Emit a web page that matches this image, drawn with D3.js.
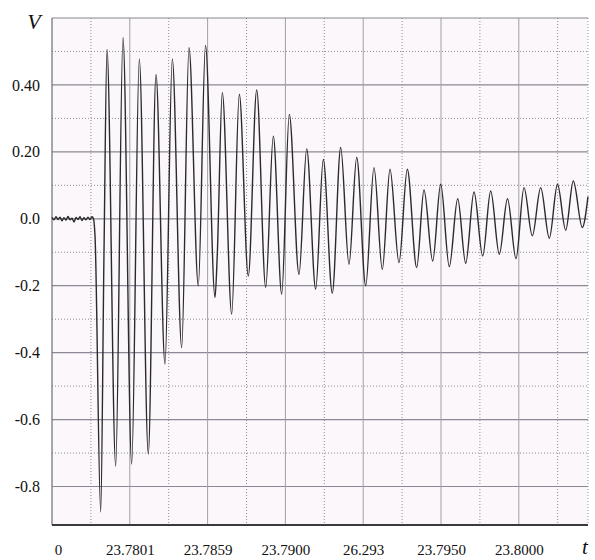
<!DOCTYPE html>
<html><head><meta charset="utf-8">
<script src="https://cdn.jsdelivr.net/npm/d3@7"></script>
<style>body{margin:0;background:#fff} svg text{font-family:"Liberation Serif","Times New Roman",Times,"DejaVu Serif","Noto Serif",FreeSerif,serif !important;}</style>
</head><body>
<svg id="c" width="595" height="560"></svg>
<script>
// sample times (arbitrary record units) and voltages (V)
const times = [0,2,4,6,8,10,12,14,16,18,20,22,24,26,28,30,32,34,36,38,40,41.5,
  43,48.7,52,55,63.7,71,79.7,87.3,96.3,104,113,120.3,129.7,137,146.3,153.5,163,165.3,170.3,
  179.7,187.3,196.3,204.7,213.7,221.3,229.7,237.3,247,254.7,263.7,271.3,280.3,288.7,297,
  304.7,313.7,322,330.3,338,347,355.3,364.7,372,380.7,388.7,397.3,405.7,413.7,422,430.7,
  438.7,447.3,455.5,464,472,480.3,488.7,497.3,505.5,513.7,521.3,530.3,536];
const volts = [0.004,-0.003,0.006,-0.002,0.005,-0.006,0.003,-0.004,0.007,-0.003,0.002,-0.01,
  0.004,-0.002,0.006,-0.005,0.003,-0.003,0.005,-0.002,0.006,0.0,
  -0.05,-0.876,-0.1,0.506,-0.739,0.541,-0.733,0.478,-0.703,0.431,-0.434,0.478,-0.385,0.511,
  -0.2,0.518,-0.235,-0.106,0.377,-0.285,0.372,-0.171,0.385,-0.205,0.247,-0.225,0.312,-0.166,
  0.209,-0.21,0.177,-0.222,0.213,-0.136,0.183,-0.2,0.153,-0.151,0.148,-0.131,0.148,-0.146,
  0.086,-0.126,0.103,-0.143,0.06,-0.133,0.08,-0.111,0.083,-0.106,0.06,-0.119,0.093,-0.051,
  0.093,-0.058,0.103,-0.034,0.113,-0.026,0.066];

const yTicks = [0.4,0.2,0,-0.2,-0.4,-0.6,-0.8];
const yTickLabels = ["0.40","0.20","0.0","-0.2","-0.4","-0.6","-0.8"];
const yMinor = [0.5,0.3,0.1,-0.1,-0.3,-0.5,-0.7];
const xMajor = [77.8,155.6,233.4,311.2,389,466.8];
const xMinor = [38.9,116.7,194.5,272.3,350.1,427.9,505.7];
const xTickPos = [6,77.8,155.6,233.4,311.2,389,466.8];
const xTickLabels = ["0","23.7801","23.7859","23.7900","26.293","23.7950","23.8000"];

const L=52,R=588,T=18,B=525;
const svg = d3.select("#c");
const x = d3.scaleLinear().domain([0,536]).range([L,R]);
const y = d3.scaleLinear().domain([-0.915,0.6]).range([B,T]);

svg.append("rect").attr("x",L).attr("y",T).attr("width",R-L).attr("height",B-T).attr("fill","#fbf7fa");

const g = svg.append("g");
g.selectAll(".hm").data(yMinor).join("line")
  .attr("x1",L).attr("x2",R).attr("y1",d=>y(d)).attr("y2",d=>y(d))
  .attr("stroke","#8f8a98").attr("stroke-width",1).attr("stroke-dasharray","1,2");
g.selectAll(".vm").data(xMinor).join("line")
  .attr("y1",T).attr("y2",B).attr("x1",d=>x(d)).attr("x2",d=>x(d))
  .attr("stroke","#8f8a98").attr("stroke-width",1).attr("stroke-dasharray","1,2");
g.append("line").attr("x1",R).attr("x2",R).attr("y1",T).attr("y2",B)
  .attr("stroke","#9a95a2").attr("stroke-dasharray","1,2");
g.selectAll(".hM").data(yTicks).join("line")
  .attr("x1",L).attr("x2",R).attr("y1",d=>y(d)).attr("y2",d=>y(d))
  .attr("stroke","#8d8895").attr("stroke-width",1.2);
g.selectAll(".vM").data(xMajor).join("line")
  .attr("y1",T).attr("y2",B).attr("x1",d=>x(d)).attr("x2",d=>x(d))
  .attr("stroke","#a39fab").attr("stroke-width",1);
g.append("line").attr("x1",L).attr("x2",R).attr("y1",T).attr("y2",T).attr("stroke","#8a8690").attr("stroke-width",1.2);
g.append("line").attr("x1",L).attr("x2",L).attr("y1",T).attr("y2",B).attr("stroke","#6e6a74").attr("stroke-width",1.2);
g.append("line").attr("x1",L).attr("x2",R).attr("y1",B).attr("y2",B).attr("stroke","#3a3a3e").attr("stroke-width",2);

const pts = times.map((t,i)=>[t,volts[i]]);
const line = d3.line().x(d=>x(d[0])).y(d=>y(d[1])).curve(d3.curveMonotoneX);
svg.append("path").datum(pts).attr("d",line).attr("fill","none")
  .attr("stroke","#2b2b2e").attr("stroke-width",1.4).attr("stroke-linejoin","round");

const ya = svg.append("g").attr("transform",`translate(${L},0)`)
  .call(d3.axisLeft(y).tickValues(yTicks).tickFormat((d,i)=>yTickLabels[i]).tickSize(0).tickPadding(12));
ya.select(".domain").remove();
ya.selectAll("text").attr("font-size",16).attr("fill","#111");

const xa = svg.append("g").attr("transform",`translate(0,${B})`)
  .call(d3.axisBottom(x).tickValues(xTickPos).tickFormat((d,i)=>xTickLabels[i]).tickSize(0).tickPadding(19));
xa.select(".domain").remove();
xa.selectAll("text").attr("font-size",15).attr("fill","#111");

svg.append("text").attr("x",34).attr("y",29).attr("text-anchor","middle")
  .attr("font-style","italic").attr("font-size",22).attr("fill","#111").text("V");
svg.append("text").attr("x",585).attr("y",554).attr("text-anchor","middle")
  .attr("font-style","italic").attr("font-size",21).attr("fill","#111").text("t");
</script>
</body></html>
